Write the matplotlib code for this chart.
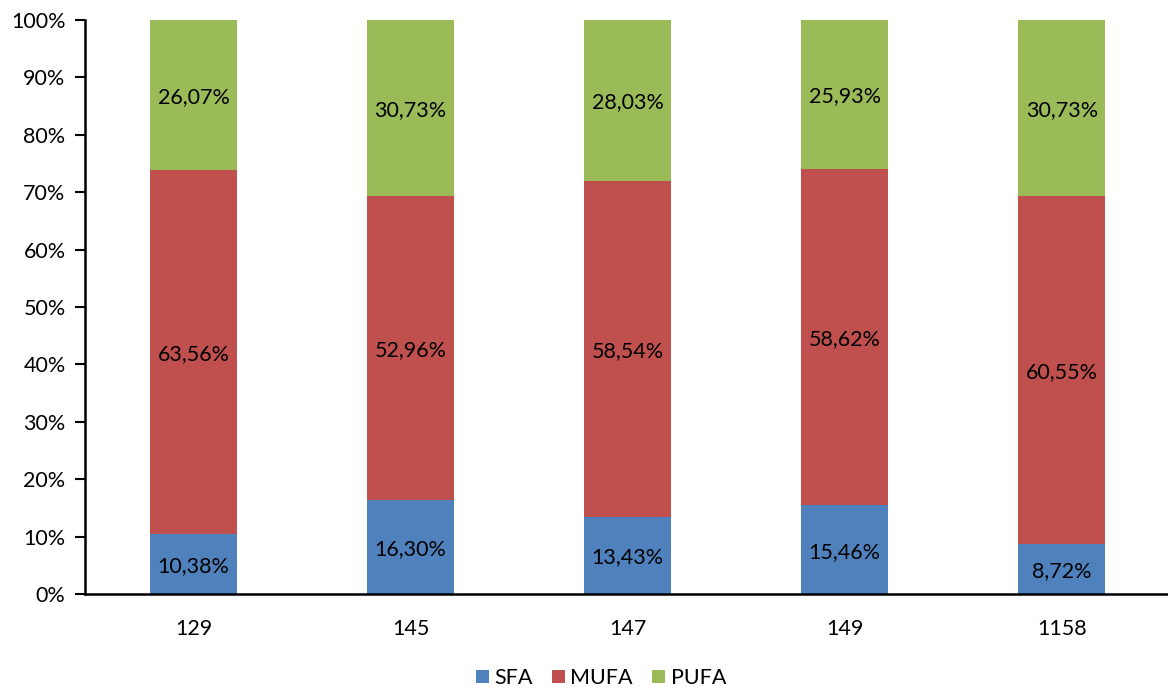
import matplotlib
matplotlib.use("Agg")
import matplotlib.pyplot as plt
import numpy as np
from matplotlib.ticker import FixedLocator, FuncFormatter

plt.rcParams['font.family'] = ['Lato', 'DejaVu Sans']

categories = ["129", "145", "147", "149", "1158"]
sfa = [10.38, 16.30, 13.43, 15.46, 8.72]
mufa = [63.56, 52.96, 58.54, 58.62, 60.55]
pufa = [26.07, 30.73, 28.03, 25.93, 30.73]
series_names = ["SFA", "MUFA", "PUFA"]
colors = ["#4F81BD", "#C0504D", "#9BBB59"]

FS = 15.5

fig = plt.figure(figsize=(11.68, 6.91), dpi=100)
ax = fig.add_axes([85 / 1168, 1 - 594 / 691, 1 - 85 / 1168 + 0.002, (594 - 20) / 691])

x = np.arange(len(categories))
data = [np.array(sfa), np.array(mufa), np.array(pufa)]
totals = data[0] + data[1] + data[2]
bottom = np.zeros(len(categories))
handles = []
for name, vals, col in zip(series_names, data, colors):
    share = vals / totals * 100
    bars = ax.bar(x, share, 0.4, bottom=bottom, color=col, label=name, linewidth=0)
    handles.append(bars)
    for xi, b, s, v in zip(x, bottom, share, vals):
        ax.text(xi, b + s / 2, f"{v:.2f}%".replace(".", ","), ha="center",
                va="center_baseline", fontsize=FS, color="black")
    bottom = bottom + share

ax.set_xlim(-0.5, len(categories) - 0.5)
ax.set_ylim(0, 100)
ax.yaxis.set_major_locator(FixedLocator(np.arange(0, 101, 10)))
ax.yaxis.set_major_formatter(FuncFormatter(lambda v, p: f"{int(v)}%"))
ax.set_xticks(x)
ax.set_xticklabels(categories)
ax.tick_params(axis="x", length=0, pad=18, labelsize=FS)
ax.tick_params(axis="y", length=7, width=1.5, direction="out", pad=7, labelsize=FS)
for side in ["top", "right"]:
    ax.spines[side].set_visible(False)
ax.spines["left"].set_linewidth(1.8)
ax.spines["bottom"].set_linewidth(1.8)

fig.legend(handles, series_names, loc="center", bbox_to_anchor=(601 / 1168, 1 - 678 / 691),
           ncol=3, frameon=False, fontsize=FS, handlelength=0.6, handleheight=0.6,
           handletextpad=0.25, columnspacing=0.9)

fig.savefig("out.png", dpi=100)
